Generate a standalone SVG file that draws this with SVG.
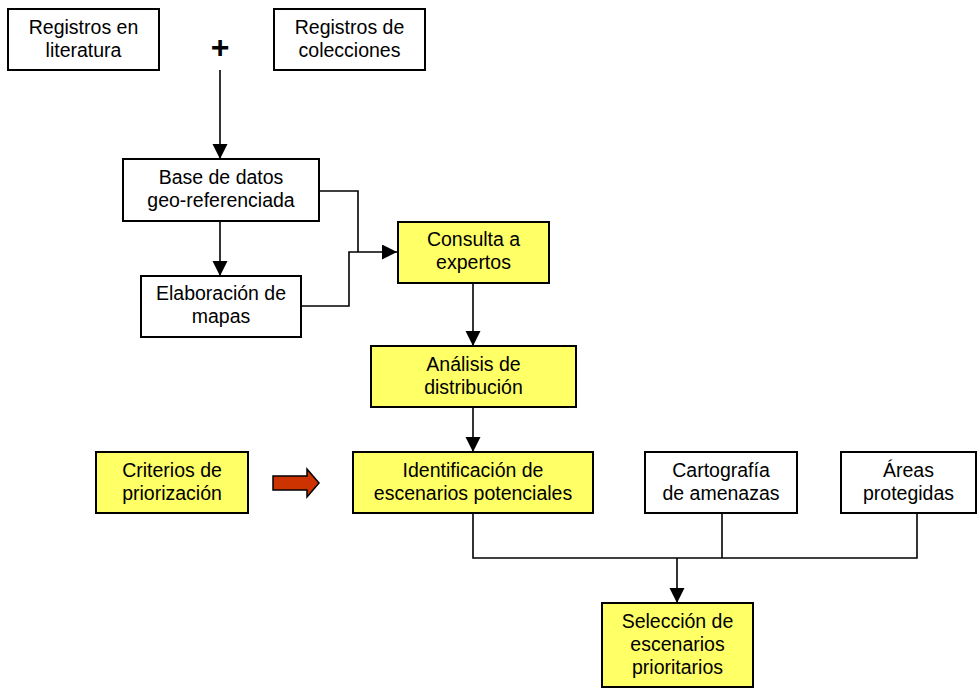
<svg xmlns="http://www.w3.org/2000/svg" width="979" height="688" viewBox="0 0 979 688">
<style>
.box{stroke:#000;stroke-width:2;fill:#fff}
.y{fill:#FFFF66}
.t{font-family:"Liberation Sans",Arial,sans-serif;font-size:19.5px;fill:#000;text-anchor:middle}
.c{fill:none;stroke:#000;stroke-width:1.6}
</style>
<defs>
<marker id="ah" markerUnits="userSpaceOnUse" markerWidth="16" markerHeight="16" refX="15" refY="7.5" orient="auto">
<path d="M0,0 L15,7.5 L0,15 Z" fill="#000"/>
</marker>
</defs>
<rect width="979" height="688" fill="#fff"/>
<g id="connectors">
<line class="c" x1="220" y1="70" x2="220" y2="159" marker-end="url(#ah)"/>
<line class="c" x1="220" y1="221" x2="220" y2="276" marker-end="url(#ah)"/>
<polyline class="c" points="319,191 358,191 358,252"/>
<polyline class="c" points="301,306 349,306 349,252 397,252" marker-end="url(#ah)"/>
<line class="c" x1="473" y1="283" x2="473" y2="346" marker-end="url(#ah)"/>
<line class="c" x1="473" y1="407" x2="473" y2="452" marker-end="url(#ah)"/>
<polyline class="c" points="473,513 473,558 917,558 917,513"/>
<line class="c" x1="722" y1="513" x2="722" y2="558"/>
<line class="c" x1="677" y1="558" x2="677" y2="603" stroke-width="2.6" marker-end="url(#ah)"/>
<polygon points="273,476 307,476 307,469 319,483 307,497 307,490 273,490" fill="#CC3300" stroke="#000" stroke-width="1.5"/>
</g>
<g id="plus"><text x="220" y="58" style="font-family:'Liberation Sans',Arial,sans-serif;font-weight:bold;font-size:32px;text-anchor:middle">+</text></g>
<g id="n-literatura"><rect class="box" x="8" y="9" width="151" height="61"/><text class="t" x="83.5" y="34">Registros en</text><text class="t" x="83.5" y="57">literatura</text></g>
<g id="n-colecciones"><rect class="box" x="274" y="9" width="151" height="61"/><text class="t" x="349.5" y="34">Registros de</text><text class="t" x="349.5" y="57">colecciones</text></g>
<g id="n-base"><rect class="box" x="123" y="159" width="196" height="62"/><text class="t" x="221" y="184">Base de datos</text><text class="t" x="221" y="207">geo-referenciada</text></g>
<g id="n-elaboracion"><rect class="box" x="141" y="276" width="160" height="61"/><text class="t" x="221" y="300">Elaboración de</text><text class="t" x="221" y="323">mapas</text></g>
<g id="n-consulta"><rect class="box y" x="398" y="222" width="151" height="61"/><text class="t" x="473.5" y="246">Consulta a</text><text class="t" x="473.5" y="269">expertos</text></g>
<g id="n-analisis"><rect class="box y" x="371" y="346" width="205" height="61"/><text class="t" x="473.5" y="371">Análisis de</text><text class="t" x="473.5" y="394">distribución</text></g>
<g id="n-criterios"><rect class="box y" x="96" y="452" width="152" height="61"/><text class="t" x="172" y="477">Criterios de</text><text class="t" x="172" y="500">priorización</text></g>
<g id="n-identificacion"><rect class="box y" x="353" y="452" width="240" height="61"/><text class="t" x="473" y="477">Identificación de</text><text class="t" x="473" y="500">escenarios potenciales</text></g>
<g id="n-cartografia"><rect class="box" x="645" y="452" width="152" height="61"/><text class="t" x="721" y="477">Cartografía</text><text class="t" x="721" y="500">de amenazas</text></g>
<g id="n-areas"><rect class="box" x="841" y="452" width="135" height="61"/><text class="t" x="908.5" y="477">Áreas</text><text class="t" x="908.5" y="500">protegidas</text></g>
<g id="n-seleccion"><rect class="box y" x="602" y="603" width="151" height="84"/><text class="t" x="677.5" y="628">Selección de</text><text class="t" x="677.5" y="651">escenarios</text><text class="t" x="677.5" y="674">prioritarios</text></g>
</svg>
